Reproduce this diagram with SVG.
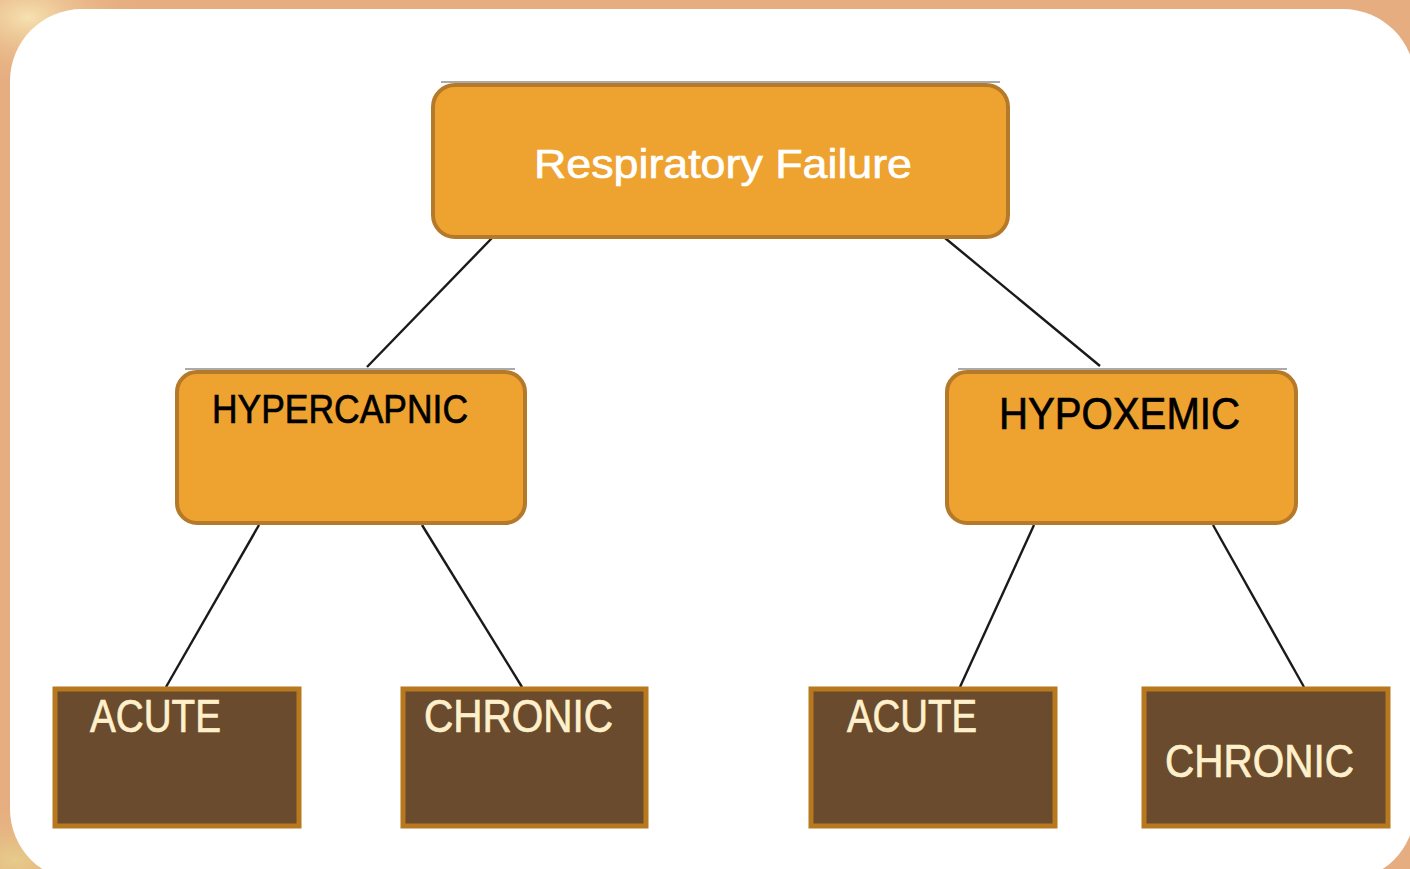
<svg xmlns="http://www.w3.org/2000/svg" width="1410" height="869" viewBox="0 0 1410 869">
<defs>
<radialGradient id="glow1" cx="0.02" cy="0.02" r="0.08">
<stop offset="0" stop-color="#F6E2B0"/>
<stop offset="1" stop-color="#E6AE80" stop-opacity="0"/>
</radialGradient>
<radialGradient id="glow2" cx="0.01" cy="0.99" r="0.07">
<stop offset="0" stop-color="#E6CC8A"/>
<stop offset="1" stop-color="#E6AE80" stop-opacity="0"/>
</radialGradient>
</defs>
<style>
.top{fill:#EEA22F;stroke:#B5792A;stroke-width:4}
.leaf{fill:#6B4B2D;stroke:#B8781E;stroke-width:5}
.shadow{stroke:#666;stroke-width:2;opacity:0.55}
.conn line{stroke:#1a1a1a;stroke-width:2.4}
.lbl{font-family:"Liberation Sans",Arial,sans-serif;stroke-width:0.7}
.blk{fill:#000;stroke:#000}
.cream{fill:#FFF0CC;stroke:#FFF0CC;font-size:46px}
.wht{fill:#fff;stroke:#fff;font-size:41px}
</style>
<rect x="0" y="0" width="1410" height="869" fill="#E6AE80"/>
<rect x="0" y="0" width="1410" height="869" fill="url(#glow1)"/>
<rect x="0" y="0" width="1410" height="869" fill="url(#glow2)"/>
<rect x="10" y="9" width="1405" height="872" rx="72" fill="#fff"/>
<g class="conn" id="connectors">
<line x1="492" y1="238" x2="367" y2="367"/>
<line x1="945" y1="238" x2="1100" y2="366"/>
<line x1="259" y1="525" x2="166" y2="687"/>
<line x1="422" y1="525" x2="522" y2="687"/>
<line x1="1034" y1="525" x2="960" y2="687"/>
<line x1="1213" y1="525" x2="1304" y2="687"/>
</g>
<g id="respiratory-failure">
<line class="shadow" x1="441" y1="82" x2="1000" y2="82"/>
<rect class="top" x="433" y="85" width="575" height="152" rx="22"/>
<text class="lbl wht" x="534" y="178" textLength="378" lengthAdjust="spacingAndGlyphs">Respiratory Failure</text>
</g>
<g id="hypercapnic">
<line class="shadow" x1="185" y1="369" x2="515" y2="369"/>
<rect class="top" x="177" y="372" width="348" height="151" rx="20"/>
<text class="lbl blk" x="212" y="423" font-size="41" textLength="256" lengthAdjust="spacingAndGlyphs">HYPERCAPNIC</text>
</g>
<g id="hypoxemic">
<line class="shadow" x1="958" y1="369" x2="1287" y2="369"/>
<rect class="top" x="947" y="372" width="349" height="151" rx="20"/>
<text class="lbl blk" x="999" y="429" font-size="44" textLength="241" lengthAdjust="spacingAndGlyphs">HYPOXEMIC</text>
</g>
<g id="acute-1">
<rect class="leaf" x="55" y="689" width="244" height="137"/>
<text class="lbl cream" x="90" y="732" textLength="131" lengthAdjust="spacingAndGlyphs">ACUTE</text>
</g>
<g id="chronic-1">
<rect class="leaf" x="403" y="689" width="243" height="137"/>
<text class="lbl cream" x="424" y="732" textLength="189" lengthAdjust="spacingAndGlyphs">CHRONIC</text>
</g>
<g id="acute-2">
<rect class="leaf" x="811" y="689" width="244" height="137"/>
<text class="lbl cream" x="847" y="732" textLength="130" lengthAdjust="spacingAndGlyphs">ACUTE</text>
</g>
<g id="chronic-2">
<rect class="leaf" x="1144" y="689" width="244" height="137"/>
<text class="lbl cream" x="1165" y="777" textLength="189" lengthAdjust="spacingAndGlyphs">CHRONIC</text>
</g>
</svg>
